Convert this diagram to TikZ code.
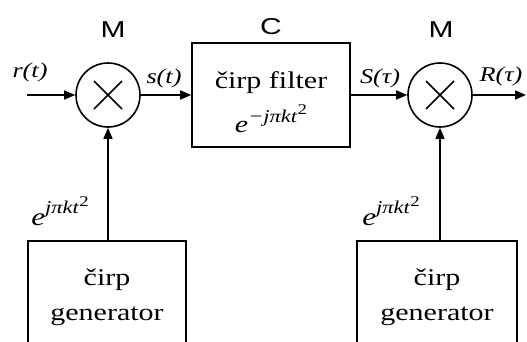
\documentclass[tikz,border=0pt]{standalone}
\usepackage{fontspec}
\setmainfont{Liberation Serif}[FakeStretch=1.25]
\newfontfamily\arialf{Liberation Sans}[FakeStretch=1.3]
\usetikzlibrary{arrows.meta,calc}
\newcommand{\chexp}[1]{\textit{e}\raisebox{0.45em}{\fontsize{18}{18}\selectfont\textit{#1πkt}\raisebox{0.4em}{\fontsize{15}{15}\selectfont 2}}}
\tikzset{
  lw/.style={line width=1.6pt},
  arr/.style={lw,-{Triangle[length=11pt,width=9pt]}},
  mult/.style={circle,draw,lw,minimum size=64pt,inner sep=0pt,
    path picture={
      \draw[lw] ($(path picture bounding box.center)+(-14pt,-14pt)$) -- ($(path picture bounding box.center)+(14pt,14pt)$);
      \draw[lw] ($(path picture bounding box.center)+(-14pt,14pt)$) -- ($(path picture bounding box.center)+(14pt,-14pt)$);
    }},
  blk/.style={draw,lw,align=center,inner sep=0pt,font=\fontsize{24}{35}\selectfont},
  lbl/.style={inner sep=0pt,font=\fontsize{21}{21}\selectfont\itshape},
  ttl/.style={inner sep=0pt,font=\fontsize{23}{23}\selectfont\arialf},
  elbl/.style={inner sep=0pt,font=\fontsize{25}{25}\selectfont},
}
\begin{document}
\begin{tikzpicture}[x=1pt,y=-1pt]
\useasboundingbox (0,0) rectangle (527,341);
\clip (0,0) rectangle (527,341);
\node[mult] (m1) at (108,95) {};
\node[mult] (m2) at (440,95) {};
\node[blk,minimum width=158pt,minimum height=104pt] (flt) at (271,95) {};
\node[inner sep=0pt,font=\fontsize{24}{24}\selectfont] (ft1) at (271,83) {čirp filter};
\node[inner sep=0pt,font=\fontsize{24}{24}\selectfont] (ft2) at (271,119) {\chexp{−j}};
\node[blk,minimum width=158pt,minimum height=112pt] (g1) at (107,297) {čirp\\generator};
\node[blk,minimum width=160pt,minimum height=112pt] (g2) at (437,297) {čirp\\generator};
\coordinate (in) at (27,95);
\coordinate (out) at (526,95);
\draw[arr] (in) -- (m1);
\draw[arr] (m1) -- (flt);
\draw[arr] (flt) -- (m2);
\draw[arr] (m2) -- (out);
\draw[arr] (g1.north -| m1) -- (m1);
\draw[arr] (g2.north -| m2) -- (m2);
\node[ttl] (tm1) at (113,30) {M};
\node[ttl] (tc) at (271,27) {C};
\node[ttl] (tm2) at (441,30) {M};
\node[lbl] (lr) at (30,72) {r(t)};
\node[lbl] (lS) at (380,78) {S(τ)};
\node[lbl] (ls) at (164,78) {s(t)};
\node[lbl] (lR) at (501,76) {R(τ)};
\node[elbl] (e1) at (60,211) {\chexp{j}};
\node[elbl] (e2) at (391,211) {\chexp{j}};
\end{tikzpicture}
\end{document}
